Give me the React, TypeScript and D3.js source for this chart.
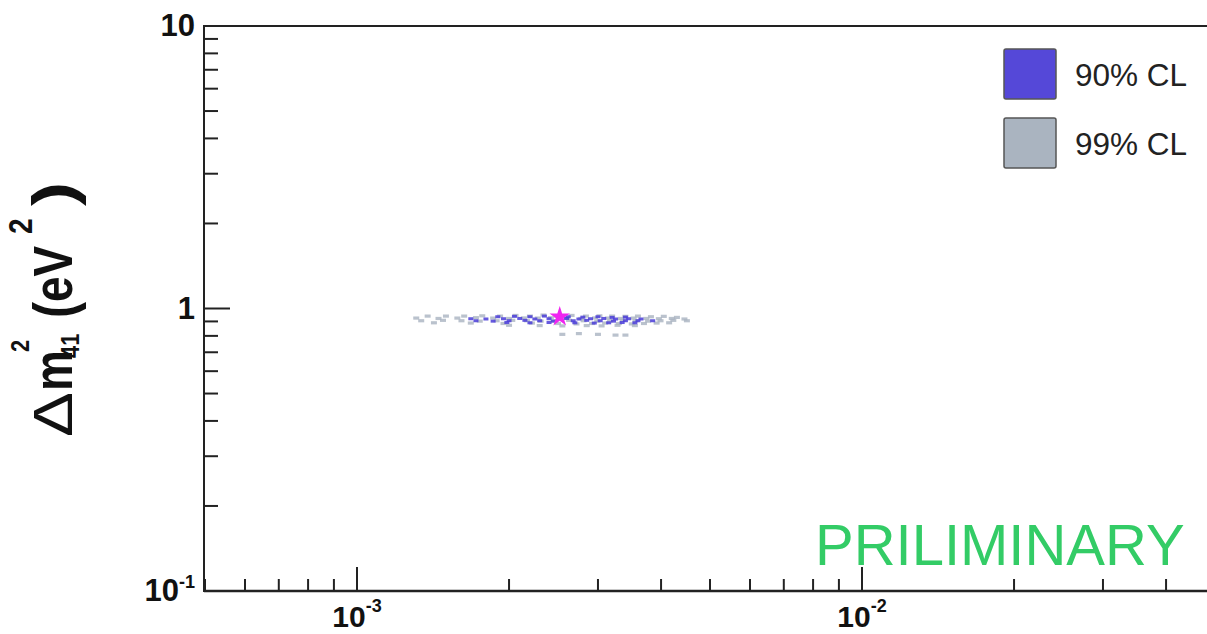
import * as d3 from 'd3';

// sin^2(2θ) vs Δm²41 allowed region
const cl99Points: [number, number][] = [
  [1.38e-3, 0.94], [1.5e-3, 0.94], [1.63e-3, 0.94], [1.77e-3, 0.942], [1.92e-3, 0.94], [2.06e-3, 0.945],
  [2.2e-3, 0.94], [2.34e-3, 0.948], [2.48e-3, 0.94], [2.66e-3, 0.945], [2.84e-3, 0.94], [3.02e-3, 0.942],
  [3.2e-3, 0.94], [3.4e-3, 0.938], [3.6e-3, 0.94], [3.82e-3, 0.935], [4.05e-3, 0.938], [4.3e-3, 0.93],
  [1.31e-3, 0.925], [1.45e-3, 0.922], [1.58e-3, 0.925], [1.72e-3, 0.928], [1.86e-3, 0.925], [2.0e-3, 0.922],
  [2.14e-3, 0.926], [2.28e-3, 0.925], [2.42e-3, 0.928], [2.6e-3, 0.925], [2.78e-3, 0.922], [2.96e-3, 0.926],
  [3.14e-3, 0.925], [3.33e-3, 0.922], [3.53e-3, 0.925], [3.74e-3, 0.922], [3.96e-3, 0.92], [4.2e-3, 0.922],
  [4.45e-3, 0.918],
  [1.34e-3, 0.905], [1.48e-3, 0.908], [1.61e-3, 0.905], [1.75e-3, 0.902], [1.89e-3, 0.905], [2.03e-3, 0.908],
  [2.17e-3, 0.905], [2.31e-3, 0.902], [2.45e-3, 0.905], [2.63e-3, 0.908], [2.81e-3, 0.905], [2.99e-3, 0.902],
  [3.17e-3, 0.905], [3.36e-3, 0.908], [3.56e-3, 0.905], [3.77e-3, 0.902], [3.99e-3, 0.905], [4.23e-3, 0.908],
  [4.5e-3, 0.905],
  [1.42e-3, 0.89], [1.68e-3, 0.888], [1.95e-3, 0.885], [2.22e-3, 0.888], [2.5e-3, 0.885], [2.72e-3, 0.882],
  [2.92e-3, 0.885], [3.1e-3, 0.888], [3.3e-3, 0.885], [3.5e-3, 0.882], [3.7e-3, 0.885], [3.92e-3, 0.888],
  [4.15e-3, 0.89],
  [2.0e-3, 0.872], [2.3e-3, 0.87], [2.55e-3, 0.868], [2.85e-3, 0.87], [3.05e-3, 0.868], [3.28e-3, 0.872],
  [3.55e-3, 0.87],
  [2.55e-3, 0.81], [2.75e-3, 0.815], [3.0e-3, 0.81], [3.25e-3, 0.805], [3.4e-3, 0.805],
];

const cl90Points: [number, number][] = [
  [1.9e-3, 0.935], [2.05e-3, 0.938], [2.2e-3, 0.935], [2.35e-3, 0.94], [2.62e-3, 0.935], [2.8e-3, 0.932],
  [3.0e-3, 0.935], [3.2e-3, 0.93], [3.4e-3, 0.932],
  [1.68e-3, 0.92], [1.8e-3, 0.918], [1.95e-3, 0.92], [2.1e-3, 0.922], [2.25e-3, 0.918], [2.4e-3, 0.92],
  [2.6e-3, 0.922], [2.75e-3, 0.918], [2.9e-3, 0.92], [3.08e-3, 0.922], [3.25e-3, 0.918], [3.45e-3, 0.92],
  [3.65e-3, 0.918],
  [1.72e-3, 0.905], [1.86e-3, 0.902], [2.0e-3, 0.905], [2.15e-3, 0.908], [2.3e-3, 0.905], [2.45e-3, 0.902],
  [2.68e-3, 0.905], [2.85e-3, 0.908], [3.03e-3, 0.905], [3.22e-3, 0.902], [3.4e-3, 0.905], [3.6e-3, 0.905],
  [3.85e-3, 0.905],
  [1.98e-3, 0.892], [2.2e-3, 0.89], [2.4e-3, 0.892], [2.7e-3, 0.89], [2.95e-3, 0.888], [3.15e-3, 0.89],
  [3.35e-3, 0.892], [3.55e-3, 0.89],
];

const bestFit: [number, number] = [2.52e-3, 0.935];

const xMajorTicks = [1e-3, 1e-2];
const xMajorExp = ['-3', '-2'];
const yMajorTicks = [0.1, 1, 10];
const yMajorBase = ['10', '1', '10'];
const yMajorExp = ['-1', '', ''];

const legendLabels = ['90% CL', '99% CL'];
const legendColors = ['#5548d8', '#aab4c0'];

export default function App() {
  const width = 1207;
  const height = 634;

  const x = d3.scaleLog().domain([5e-4, 5e-2]).range([205, 1215]);
  const y = d3.scaleLog().domain([0.1, 10]).range([591, 26]);

  const xMinor = x.ticks().filter(t => !xMajorTicks.some(m => Math.abs(m - t) / m < 1e-6));
  const yMinor = y.ticks().filter(t => !yMajorTicks.some(m => Math.abs(m - t) / m < 1e-6));

  const star = d3.symbol().type(d3.symbolStar).size(130)();
  const font = 'Liberation Sans, Arial, sans-serif';

  return (
    <div style={{ position: 'absolute', left: 0, top: 0 }}>
      <svg width={width} height={height} style={{ display: 'block', background: '#fff' }}>
        {/* allowed region points */}
        <g>
          {cl99Points.map((d, i) => (
            <rect key={'g' + i} x={x(d[0]) - 3} y={y(d[1]) - 1.6} width={6} height={3.2}
              fill="#a9b3c1" opacity={0.8} />
          ))}
          {cl90Points.map((d, i) => (
            <rect key={'b' + i} x={x(d[0]) - 2.5} y={y(d[1]) - 1.5} width={5} height={3}
              fill="#4a3cd8" opacity={0.85} />
          ))}
          <path d={star} transform={`translate(${x(bestFit[0])},${y(bestFit[1])})`} fill="#f024f0" />
        </g>

        {/* frame */}
        <line x1={204} x2={width} y1={26} y2={26} stroke="#222" strokeWidth={2} />
        <line x1={204} x2={204} y1={25} y2={592} stroke="#222" strokeWidth={2} />
        <line x1={204} x2={width} y1={591} y2={591} stroke="#222" strokeWidth={2.5} />

        {/* y ticks */}
        {yMajorTicks.map(t => (
          <line key={'ym' + t} x1={204} x2={230} y1={y(t)} y2={y(t)} stroke="#222" strokeWidth={2} />
        ))}
        {yMinor.map(t => (
          <line key={'yn' + t} x1={204} x2={218} y1={y(t)} y2={y(t)} stroke="#222" strokeWidth={2} />
        ))}
        {yMajorTicks.map((t, i) => (
          <text key={'yl' + t} x={195} y={y(t) + 10} textAnchor="end" fontFamily={font}
            fontWeight="bold" fontSize={31} fill="#111">
            {yMajorBase[i]}
            {yMajorExp[i] && <tspan fontSize={18} dy={-13}>{yMajorExp[i]}</tspan>}
          </text>
        ))}

        {/* x ticks */}
        {xMajorTicks.map(t => (
          <line key={'xm' + t} x1={x(t)} x2={x(t)} y1={591} y2={567} stroke="#222" strokeWidth={2} />
        ))}
        {xMinor.map(t => (
          <line key={'xn' + t} x1={x(t)} x2={x(t)} y1={591} y2={579} stroke="#222" strokeWidth={2} />
        ))}
        {xMajorTicks.map((t, i) => (
          <text key={'xl' + t} x={x(t)} y={627} textAnchor="middle" fontFamily={font}
            fontWeight="bold" fontSize={30} fill="#111">
            10<tspan fontSize={18} dy={-15}>{xMajorExp[i]}</tspan>
          </text>
        ))}

        {/* y title, rotated */}
        <g transform="translate(72,0) rotate(-90) scale(1,1.2)" fontFamily={font} fill="#111">
          <text x={-437} y={0} fontSize={46} textLength={45} lengthAdjust="spacingAndGlyphs">Δ</text>
          <text x={-391} y={0} fontSize={46} fontWeight="bold">m</text>
          <text x={-352} y={-36} fontSize={22} fontWeight="bold">2</text>
          <text x={-358} y={6} fontSize={22} fontWeight="bold">41</text>
          <text x={-318} y={2} fontSize={48} fontWeight="bold">(</text>
          <text x={-302} y={0} fontSize={46} fontWeight="bold">eV</text>
          <text x={-234} y={-33} fontSize={28} fontWeight="bold">2</text>
          <text x={-206} y={2} fontSize={50} fontWeight="bold" textLength={24}
            lengthAdjust="spacingAndGlyphs">)</text>
        </g>

        {/* legend */}
        {legendLabels.map((l, i) => (
          <g key={l} transform={`translate(1004,${49 + i * 69})`}>
            <rect x={0} y={0} width={52} height={50} rx={2} fill={legendColors[i]} stroke="#555" strokeWidth={1.5} />
            <text x={71} y={37} fontFamily={font} fontSize={31.5} fill="#222">{l}</text>
          </g>
        ))}

        <text x={815} y={565} fontFamily={font} fontSize={58} fill="#33cc66">PRILIMINARY</text>
      </svg>
    </div>
  );
}
